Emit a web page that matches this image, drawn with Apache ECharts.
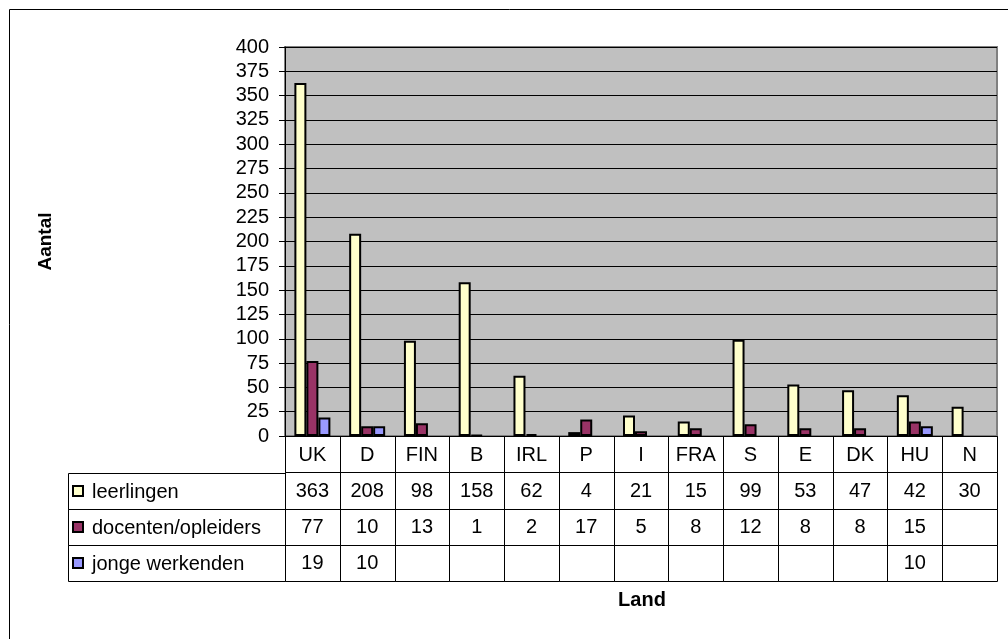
<!DOCTYPE html>
<html>
<head>
<meta charset="utf-8">
<script src="https://cdn.jsdelivr.net/npm/echarts@6/dist/echarts.min.js"></script>
<style>
  html, body { margin: 0; padding: 0; background: #fff; }
  #chart { width: 1008px; height: 639px; }
</style>
</head>
<body>
<div id="chart"></div>
<script>
// Countries (x axis) and the three groups counted per country
const countries = ['UK', 'D', 'FIN', 'B', 'IRL', 'P', 'I', 'FRA', 'S', 'E', 'DK', 'HU', 'N'];
const seriesNames = ['leerlingen', 'docenten/opleiders', 'jonge werkenden'];
const leerlingen = [363, 208, 98, 158, 62, 4, 21, 15, 99, 53, 47, 42, 30];
const docenten = [77, 10, 13, 1, 2, 17, 5, 8, 12, 8, 8, 15, null];
const jongeWerkenden = [19, 10, null, null, null, null, null, null, null, null, null, 10, null];
const yTicks = { min: 0, max: 400, step: 25 };

const colors = ['#FFFFCC', '#993366', '#9999FF'];
const values = [leerlingen, docenten, jongeWerkenden];
const FONT = '"Liberation Sans", Arial, sans-serif';
const TXT = 20;

// Data table cells: row 0 holds the country names, rows 1..3 the counts
const tableCells = [];
countries.forEach((c, i) => {
  tableCells.push({ col: i, row: 0, text: c });
  values.forEach((arr, s) => {
    tableCells.push({ col: i, row: s + 1, text: arr[i] == null ? '' : String(arr[i]) });
  });
});

const chart = echarts.init(document.getElementById('chart'));

// Snap a cell to whole pixels so neighbouring borders share one line
function cellBox(api) {
  const c = api.coord([api.value(0), api.value(1)]);
  const s = api.size([1, 1]);
  const x0 = Math.round(c[0] - s[0] / 2), x1 = Math.round(c[0] + s[0] / 2);
  const y0 = Math.round(c[1] - s[1] / 2), y1 = Math.round(c[1] + s[1] / 2);
  return { c: c, x0: x0, y0: y0, w: x1 - x0, h: y1 - y0 };
}

function tableCell(params, api) {
  const cell = tableCells[params.dataIndex];
  const b = cellBox(api);
  return {
    type: 'group',
    children: [
      { type: 'rect', shape: { x: b.x0 + 0.5, y: b.y0 + 0.5, width: b.w, height: b.h },
        style: { fill: 'rgba(0,0,0,0)', stroke: '#000', lineWidth: 1 } },
      { type: 'text', style: { text: cell.text, x: b.c[0], y: b.c[1] + 1, align: 'center', verticalAlign: 'middle',
        font: TXT + 'px ' + FONT, fill: '#000' } }
    ]
  };
}

function headerCell(params, api) {
  const idx = params.dataIndex;
  const b = cellBox(api);
  return {
    type: 'group',
    children: [
      { type: 'rect', shape: { x: b.x0 + 0.5, y: b.y0 + 0.5, width: b.w, height: b.h },
        style: { fill: 'rgba(0,0,0,0)', stroke: '#000', lineWidth: 1 } },
      { type: 'rect', shape: { x: b.x0 + 5, y: Math.round(b.c[1]) - 5, width: 10, height: 10 },
        style: { fill: colors[idx], stroke: '#000', lineWidth: 2 } },
      { type: 'text', style: { text: seriesNames[idx], x: b.x0 + 24, y: b.c[1] + 1, align: 'left', verticalAlign: 'middle',
        font: TXT + 'px ' + FONT, fill: '#000' } }
    ]
  };
}

const barSeries = values.map((arr, s) => ({
  name: seriesNames[s],
  type: 'bar',
  xAxisIndex: 0,
  yAxisIndex: 0,
  data: arr,
  barWidth: 12,
  barGap: '0%',
  itemStyle: { color: colors[s], borderColor: '#000', borderWidth: 2 },
  emphasis: { disabled: true },
  animation: false
}));

chart.setOption({
  animation: false,
  textStyle: { fontFamily: FONT },
  graphic: [
    { type: 'rect', left: 7, top: 7, shape: { width: 1100, height: 700 },
      style: { fill: 'none', stroke: '#000', lineWidth: 1 }, silent: true },
    { type: 'text', x: 642, y: 600, style: { text: 'Land', font: 'bold 20px ' + FONT, fill: '#000',
      align: 'center', verticalAlign: 'middle' } }
  ],
  grid: [
    { left: 285, right: 11, top: 47, height: 389, show: true, backgroundColor: '#C0C0C0',
      borderColor: '#808080', borderWidth: 2 },
    { left: 285, right: 11, top: 436, height: 145 },
    { left: 68, width: 217, top: 473, height: 108 }
  ],
  xAxis: [
    { type: 'category', gridIndex: 0, data: countries,
      axisLine: { show: true, lineStyle: { color: '#000', width: 1 } },
      axisTick: { show: false }, axisLabel: { show: false } },
    { type: 'category', gridIndex: 1, data: countries, show: false },
    { type: 'category', gridIndex: 2, data: ['kop'], show: false }
  ],
  yAxis: [
    { type: 'value', gridIndex: 0, min: yTicks.min, max: yTicks.max, interval: yTicks.step,
      name: 'Aantal', nameLocation: 'middle', nameRotate: 90, nameGap: 230,
      nameTextStyle: { fontWeight: 'bold', fontSize: 19, color: '#000', fontFamily: FONT },
      axisLine: { show: true, lineStyle: { color: '#000', width: 1 } },
      axisTick: { show: true, length: 6, lineStyle: { color: '#000' } },
      axisLabel: { color: '#000', fontSize: TXT, margin: 16, fontFamily: FONT },
      splitLine: { show: true, lineStyle: { color: '#000', width: 1 } } },
    { type: 'category', gridIndex: 1, data: ['land'].concat(seriesNames), inverse: true, show: false },
    { type: 'category', gridIndex: 2, data: seriesNames, inverse: true, show: false }
  ],
  series: barSeries.concat([
    { type: 'custom', xAxisIndex: 1, yAxisIndex: 1, renderItem: tableCell, silent: true,
      data: tableCells.map(c => [c.col, c.row]) },
    { type: 'custom', xAxisIndex: 2, yAxisIndex: 2, renderItem: headerCell, silent: true,
      data: seriesNames.map((n, i) => [0, i]) }
  ])
});
</script>
</body>
</html>
